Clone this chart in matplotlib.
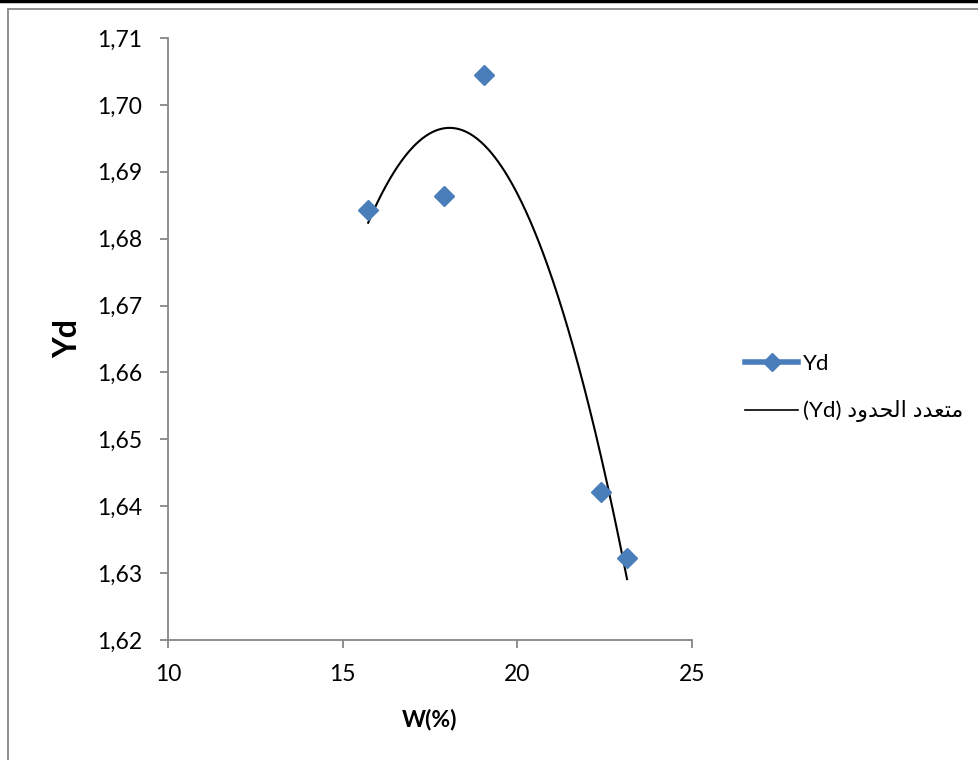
import numpy as np
import matplotlib
matplotlib.use("Agg")
import matplotlib.pyplot as plt
from matplotlib import font_manager
from matplotlib.lines import Line2D
from matplotlib.ticker import FuncFormatter

# Water content W (%) and dry density Yd
w_values = [15.73, 17.91, 19.06, 22.39, 23.14]
yd_values = [1.6843, 1.6864, 1.7044, 1.6422, 1.6322]

x_ticks = [10, 15, 20, 25]
y_ticks = [1.62, 1.63, 1.64, 1.65, 1.66, 1.67, 1.68, 1.69, 1.70, 1.71]

series_label = "Yd"
# "متعدد الحدود (Yd)" written in shaped, visual (left-to-right) glyph order
trend_label = "(Yd) " + "\uFEA9\uFEED\uFEAA\uFEA4\uFEDF\uFE8D" + " " + "\uFEA9\uFEAA\uFECC\uFE98\uFEE3"

blue = "#4a7ebb"
grey = "#868686"
font = ["Lato", "DejaVu Sans"]
plt.rcParams["font.family"] = font

# narrower Arabic glyphs for the legend when the condensed face is available
legend_font = ["Lato", "DejaVu Sans"]
try:
    font_manager.findfont(font_manager.FontProperties(family="DejaVu Sans Condensed"),
                          fallback_to_default=False)
    legend_font = ["Lato", "DejaVu Sans Condensed", "DejaVu Sans"]
except Exception:
    pass

W, H = 979, 760
fig = plt.figure(figsize=(W / 100, H / 100), dpi=100)
ax = fig.add_axes([168 / W, (H - 640) / H, (692 - 168) / W, (640 - 38) / H])

# second-order polynomial trend line over the data range
coef = np.polyfit(w_values, yd_values, 2)
xs = np.linspace(min(w_values), max(w_values), 300)
ax.plot(xs, np.polyval(coef, xs), color="black", lw=1.5, zorder=2)
ax.plot(w_values, yd_values, linestyle="none", marker="D", markersize=10.5,
        color=blue, markeredgecolor=blue, zorder=3)

ax.set_xlim(10, 25)
ax.set_ylim(1.62, 1.71)
ax.set_xticks(x_ticks)
ax.set_yticks(y_ticks)
ax.yaxis.set_major_formatter(FuncFormatter(lambda v, p: f"{v:.2f}".replace(".", ",")))
ax.xaxis.set_major_formatter(FuncFormatter(lambda v, p: f"{v:g}"))

for side in ("top", "right"):
    ax.spines[side].set_visible(False)
for side in ("left", "bottom"):
    ax.spines[side].set_color(grey)
    ax.spines[side].set_linewidth(1.3)
ax.tick_params(axis="both", direction="out", length=5.5, width=1.3, color=grey,
               labelsize=16.5, labelcolor="black")
ax.tick_params(axis="y", pad=13)
ax.tick_params(axis="x", pad=12)

ax.set_xlabel("W(%)", fontsize=16.5, fontweight="bold", labelpad=17)
ax.set_ylabel("Yd", fontsize=23, fontweight="bold", labelpad=11)

handles = [
    Line2D([], [], color=blue, lw=4, marker="D", markersize=9, markeredgecolor=blue),
    Line2D([], [], color="black", lw=1.2),
]
fig.legend(handles, [series_label, trend_label], loc="center left",
           bbox_to_anchor=(745 / W, 1 - 388 / H), frameon=False,
           borderpad=0, borderaxespad=0,
           handlelength=2.4, handletextpad=0.2, labelspacing=1.2,
           prop={"family": legend_font, "size": 16})

# chart-area frame
fig.add_artist(Line2D([0, 1], [1 - 1 / H, 1 - 1 / H], transform=fig.transFigure,
                      color="black", lw=2.5))
fig.add_artist(Line2D([8 / W, 1], [1 - 8.5 / H, 1 - 8.5 / H], transform=fig.transFigure,
                      color=grey, lw=1.3))
fig.add_artist(Line2D([8 / W, 8 / W], [0, 1 - 8.5 / H], transform=fig.transFigure,
                      color=grey, lw=1.3))

fig.savefig("out.png", dpi=100)
